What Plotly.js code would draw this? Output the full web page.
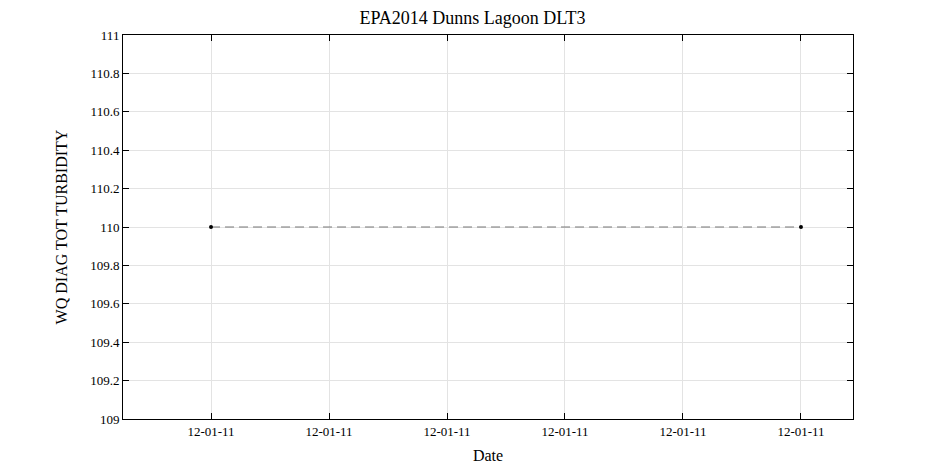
<!DOCTYPE html>
<html>
<head>
<meta charset="utf-8">
<script src="https://cdn.plot.ly/plotly-3.0.1.min.js"></script>
<style>body{margin:0;background:#fff}</style>
</head>
<body>
<div id="chart" style="width:945px;height:472px"></div>
<script>
// sample positions (tick units) and turbidity values
const sampleX = [0, 5];
const turbidity = [110, 110];
const tickVals = [0, 1, 2, 3, 4, 5];
const tickText = ['12-01-11', '12-01-11', '12-01-11', '12-01-11', '12-01-11', '12-01-11'];
const yTicks = [109, 109.2, 109.4, 109.6, 109.8, 110, 110.2, 110.4, 110.6, 110.8, 111];

const serif = '"Liberation Serif", "Times New Roman", serif';

const trace = {
    type: 'scatter', mode: 'lines+markers', x: sampleX, y: turbidity,
    line: { color: '#777', width: 1, dash: '9px,5px' },
    marker: { color: '#000', size: 4 }
};

function axisCommon() {
    return {
        showline: true, linecolor: '#000', linewidth: 1, mirror: 'ticks',
        ticks: 'inside', ticklen: 6, tickcolor: '#000',
        showgrid: true, gridcolor: '#e3e3e3', zeroline: false,
        tickfont: { family: serif, size: 13, color: '#000' }
    };
}

const layout = {
    width: 945, height: 472,
    margin: { l: 123, r: 92, t: 35, b: 53 },
    showlegend: false,
    paper_bgcolor: '#fff', plot_bgcolor: '#fff',
    font: { family: serif, color: '#000' },
    title: { text: 'EPA2014 Dunns Lagoon DLT3', font: { family: serif, size: 18 }, x: 0.5, xanchor: 'center', y: 0.975 },
    xaxis: Object.assign(axisCommon(), {
        range: [-0.746, 5.441], tickvals: tickVals, ticktext: tickText,
        title: { text: 'Date', font: { family: serif, size: 16 }, standoff: 12 }
    }),
    yaxis: Object.assign(axisCommon(), {
        range: [109, 111], tickvals: yTicks, ticktext: yTicks.map(String),
        title: { text: 'WQ DIAG TOT TURBIDITY', font: { family: serif, size: 16 }, standoff: 18 }
    })
};

Plotly.newPlot('chart', [trace], layout, { displayModeBar: false, staticPlot: true });
</script>
</body>
</html>
